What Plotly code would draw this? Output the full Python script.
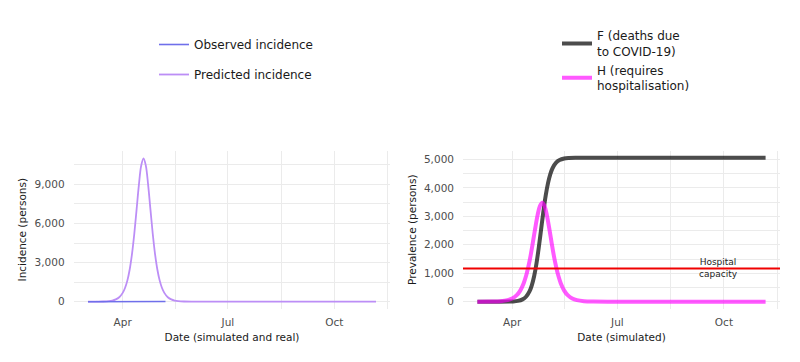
import pandas as pd
import plotly.graph_objects as go

# ---------------- data ----------------
pred_dates = ["2020-03-02", "2020-03-10", "2020-03-15", "2020-03-20", "2020-03-23",
              "2020-03-26", "2020-03-29", "2020-04-01", "2020-04-03", "2020-04-05",
              "2020-04-07", "2020-04-09", "2020-04-11", "2020-04-13", "2020-04-15",
              "2020-04-17", "2020-04-19", "2020-04-21", "2020-04-23", "2020-04-25",
              "2020-04-27", "2020-04-29", "2020-05-01", "2020-05-03", "2020-05-05",
              "2020-05-07", "2020-05-10", "2020-05-13", "2020-05-16", "2020-05-19",
              "2020-05-24", "2020-06-01", "2020-07-01", "2020-11-06"]
pred_incidence = [1, 4, 14, 44, 87, 175, 342, 678, 1051, 1616, 2453, 3633, 5192, 7057,
                  8960, 10437, 11000, 10437, 8960, 7057, 5192, 3633, 2453, 1616, 1051,
                  678, 342, 175, 87, 44, 14, 2, 0, 0]

obs_dates = ["2020-03-02", "2020-03-09", "2020-03-16", "2020-03-23", "2020-03-30",
             "2020-04-06", "2020-04-13", "2020-04-20", "2020-04-27", "2020-05-04",
             "2020-05-08"]
obs_incidence = [0, 1, 4, 12, 25, 35, 40, 38, 30, 24, 20]

h_dates = ["2020-03-02", "2020-03-14", "2020-03-22", "2020-03-28", "2020-04-01",
           "2020-04-05", "2020-04-08", "2020-04-11", "2020-04-13", "2020-04-15",
           "2020-04-17", "2020-04-19", "2020-04-21", "2020-04-23", "2020-04-25",
           "2020-04-27", "2020-04-29", "2020-05-01", "2020-05-03", "2020-05-05",
           "2020-05-07", "2020-05-09", "2020-05-11", "2020-05-13", "2020-05-16",
           "2020-05-19", "2020-05-23", "2020-05-27", "2020-06-02", "2020-06-10",
           "2020-07-01", "2020-11-06"]
h_prevalence = [0, 4, 18, 54, 111, 229, 389, 651, 901, 1228, 1632, 2101, 2594, 3043,
                3363, 3480, 3363, 3043, 2594, 2101, 1632, 1228, 901, 651, 389, 229,
                111, 54, 18, 4, 0, 0]

f_dates = ["2020-03-02", "2020-03-17", "2020-04-02", "2020-04-06", "2020-04-10",
           "2020-04-13", "2020-04-16", "2020-04-18", "2020-04-20", "2020-04-22",
           "2020-04-24", "2020-04-26", "2020-04-28", "2020-04-30", "2020-05-02",
           "2020-05-04", "2020-05-06", "2020-05-09", "2020-05-12", "2020-05-16",
           "2020-05-20", "2020-05-26", "2020-06-15", "2020-11-06"]
f_deaths = [0, 0, 11, 30, 82, 174, 361, 576, 894, 1335, 1895, 2530, 3165, 3725, 4166,
            4484, 4698, 4886, 4978, 5030, 5049, 5058, 5060, 5060]

hospital_capacity = 1170
capacity_label_date = "2020-09-26"

x_ticks = ["2020-04-01", "2020-07-01", "2020-10-01"]
x_minor = ["2020-02-15 12:00", "2020-05-16 12:00", "2020-08-16", "2020-11-16"]

# ---------------- layout helpers ----------------
FONT = "DejaVu Sans"
OFF = 8            # page body margin
W, H = 792, 354    # figure size so that page offset + figure = window


def fx(px):
    return (px - OFF) / W


def fy(py):
    return 1 - (py - OFF) / H


fig = go.Figure()

fig.add_trace(go.Scatter(x=pred_dates, y=pred_incidence, mode="lines",
                         name="Predicted incidence",
                         line=dict(color="#BC8EF6", width=1.8, shape="spline"),
                         xaxis="x", yaxis="y", legend="legend", legendrank=2,
                         legendgroup="pred"))
fig.add_trace(go.Scatter(x=obs_dates, y=obs_incidence, mode="lines",
                         name="Observed incidence", line=dict(color="#6F6FEA", width=1.6),
                         xaxis="x", yaxis="y", legend="legend", legendrank=1,
                         legendgroup="obs"))

fig.add_trace(go.Scatter(x=f_dates, y=f_deaths, mode="lines",
                         name="F (deaths due<br>to COVID-19)",
                         line=dict(color="rgba(0,0,0,0.7)", width=4, shape="spline"),
                         xaxis="x2", yaxis="y2", legend="legend2"))
fig.add_trace(go.Scatter(x=h_dates, y=h_prevalence, mode="lines",
                         name="H (requires<br>hospitalisation)",
                         line=dict(color="rgba(255,0,255,0.65)", width=4, shape="spline"),
                         xaxis="x2", yaxis="y2", legend="legend2"))

fig.add_shape(type="line", xref="x2 domain", yref="y2", x0=0, x1=1,
              y0=hospital_capacity, y1=hospital_capacity,
              line=dict(color="#F00000", width=2), layer="above")
fig.add_annotation(x=capacity_label_date, y=hospital_capacity, xref="x2", yref="y2",
                   text="Hospital<br>capacity", showarrow=False,
                   font=dict(family=FONT, size=9, color="#222222"),
                   xanchor="center", yanchor="middle")

# x range: data span with 5% expansion
d0 = pd.Timestamp("2020-03-02")
d1 = pd.Timestamp("2020-11-06")
pad = (d1 - d0) * 0.05
xr = [str(d0 - pad), str(d1 + pad)]

grid = "#EBEBEB"
tickfont = dict(family=FONT, size=10.5, color="#4D4D4D")
titlefont = dict(family=FONT, size=10.5, color="#1A1A1A")


def xaxis_cfg(domain, anchor, title):
    return dict(domain=domain, anchor=anchor, type="date", range=xr,
                tickmode="array", tickvals=x_ticks, tickformat="%b",
                showgrid=True, gridcolor=grid, gridwidth=1,
                minor=dict(tickmode="array", tickvals=x_minor, showgrid=True,
                           gridcolor=grid, gridwidth=0.6),
                zeroline=False, showline=False, ticks="",
                tickfont=tickfont, ticklabelstandoff=6,
                title=dict(text=title, font=titlefont, standoff=6))


def yaxis_cfg(anchor, rng, dtick, title):
    return dict(domain=[fy(308.9), fy(150.5)], anchor=anchor,
                range=rng, tick0=0, dtick=dtick, tickformat=",d",
                showgrid=True, gridcolor=grid, gridwidth=1,
                minor=dict(dtick=dtick / 2, tick0=0, showgrid=True,
                           gridcolor=grid, gridwidth=0.6),
                zeroline=False, showline=False, ticks="",
                tickfont=tickfont, ticklabelstandoff=8,
                title=dict(text=title, font=titlefont, standoff=5))


fig.update_layout(
    template="none",
    width=W, height=H,
    margin=dict(l=0, r=0, t=0, b=0, autoexpand=False),
    paper_bgcolor="white", plot_bgcolor="white",
    font=dict(family=FONT, size=12, color="#1A1A1A"),
    xaxis=xaxis_cfg([fx(73.6), fx(390.4)], "y", "Date (simulated and real)"),
    yaxis=yaxis_cfg("x", [-552, 11597], 3000, "Incidence (persons)"),
    xaxis2=xaxis_cfg([fx(463), fx(780)], "y2", "Date (simulated)"),
    yaxis2=yaxis_cfg("x2", [-253, 5313], 1000, "Prevalence (persons)"),
    legend=dict(x=fx(154), y=fy(30), xanchor="left", yanchor="top",
                font=dict(family=FONT, size=12, color="#1A1A1A"),
                bgcolor="rgba(0,0,0,0)", borderwidth=0, tracegroupgap=11),
    legend2=dict(x=fx(557), y=fy(21.5), xanchor="left", yanchor="top",
                 font=dict(family=FONT, size=12, color="#1A1A1A"),
                 bgcolor="rgba(0,0,0,0)", borderwidth=0),
    showlegend=True,
)

fig.write_html("out.html")
